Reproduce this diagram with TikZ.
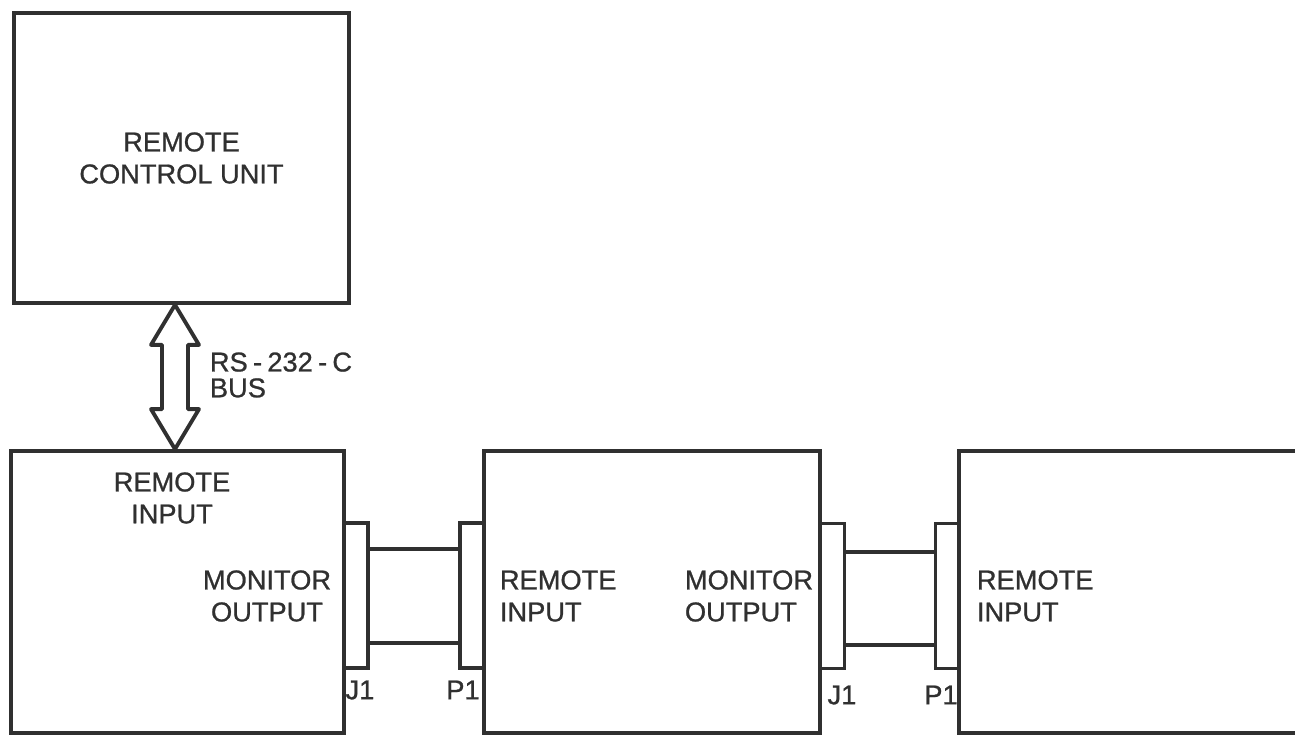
\documentclass[tikz,border=0pt]{standalone}
\usepackage{fontspec}
\setmainfont{Liberation Sans}[FakeBold=0.9]
\usetikzlibrary{calc}
\usetikzlibrary{positioning}

\definecolor{ink}{RGB}{48,48,48}

\begin{document}
\begin{tikzpicture}[x=0.02cm, y=-0.02cm, line width=2.2pt, color=ink,
        unit/.style={draw, rectangle, minimum width=6.7cm, minimum height=5.64cm, inner sep=0pt},
        plug/.style={draw, rectangle, minimum width=0.48cm, minimum height=2.9cm, inner sep=0pt},
        cable/.style={line width=1.9pt},
        lbl/.style={font=\fontsize{15.5}{18.2}\selectfont, inner sep=0pt},
        tag/.style={font=\fontsize{15.5}{18}\selectfont, inner sep=0pt}]
            \useasboundingbox (0,0) rectangle (1295,740);

            % units
            \node[unit, lbl, minimum height=5.8cm, align=center] (rcu) at (181.5,158) {REMOTE\\CONTROL UNIT};
            \node[unit, minimum width=6.66cm] (unitA) at (177.5,592) {};
            \node[unit, minimum width=6.72cm] (unitB) at (652,592) {};
            \coordinate (unitC) at (959,451);
            \draw (1295,451) -- (unitC) -- (959,733) -- (1295,733);

            % connectors
            \node[plug] (j1a) at (356,595.5) {};
            \node[plug] (p1a) at (472,595.5) {};
            \node[plug] (j1b) at (832.5,596) {};
            \node[plug] (p1b) at (947.5,596) {};

            \draw[cable] ([yshift=0.93cm]j1a.east) -- ([yshift=0.93cm]p1a.west);
            \draw[cable] ([yshift=-0.95cm]j1a.east) -- ([yshift=-0.95cm]p1a.west);
            \draw[cable] ([yshift=0.88cm]j1b.east) -- ([yshift=0.88cm]p1b.west);
            \draw[cable] ([yshift=-0.98cm]j1b.east) -- ([yshift=-0.98cm]p1b.west);

            % bus
            \coordinate (busx) at (175,0);
            \coordinate (bt) at (rcu.south -| busx);
            \coordinate (bb) at (unitA.north -| busx);
            \draw[line join=round] (bt) -- ++(24,40) -- ++(-11,0) -- ($(bb)+(13,-40)$) -- ++(11,0) -- (bb)
                -- ++(-24,-40) -- ++(11,0) -- ($(bt)+(-13,40)$) -- ++(-11,0) -- cycle;
            \node[lbl, align=left, anchor=west] (bus) at (208,375) {RS\kern3pt-\kern3pt232\kern3pt-\kern3ptC\\[-3.5pt]BUS};

            % labels
            \node[lbl, align=center] (riA) at (172,498) {REMOTE\\INPUT};
            \node[lbl, align=center] (moA) at (267,596) {MONITOR\\OUTPUT};
            \node[lbl, align=left, anchor=west] (riB) at (498,596) {REMOTE\\INPUT};
            \node[lbl, align=left, anchor=west] (moB) at (683,596) {MONITOR\\OUTPUT};
            \node[lbl, align=left, anchor=west] (riC) at (975,596) {REMOTE\\INPUT};

            \node[tag] (j1aTag) at (360,690) {J1};
            \node[tag] (p1aTag) at (463,690) {P1};
            \node[tag] (j1bTag) at (842,695) {J1};
            \node[tag] (p1bTag) at (941,695) {P1};
        \end{tikzpicture}
\end{document}
